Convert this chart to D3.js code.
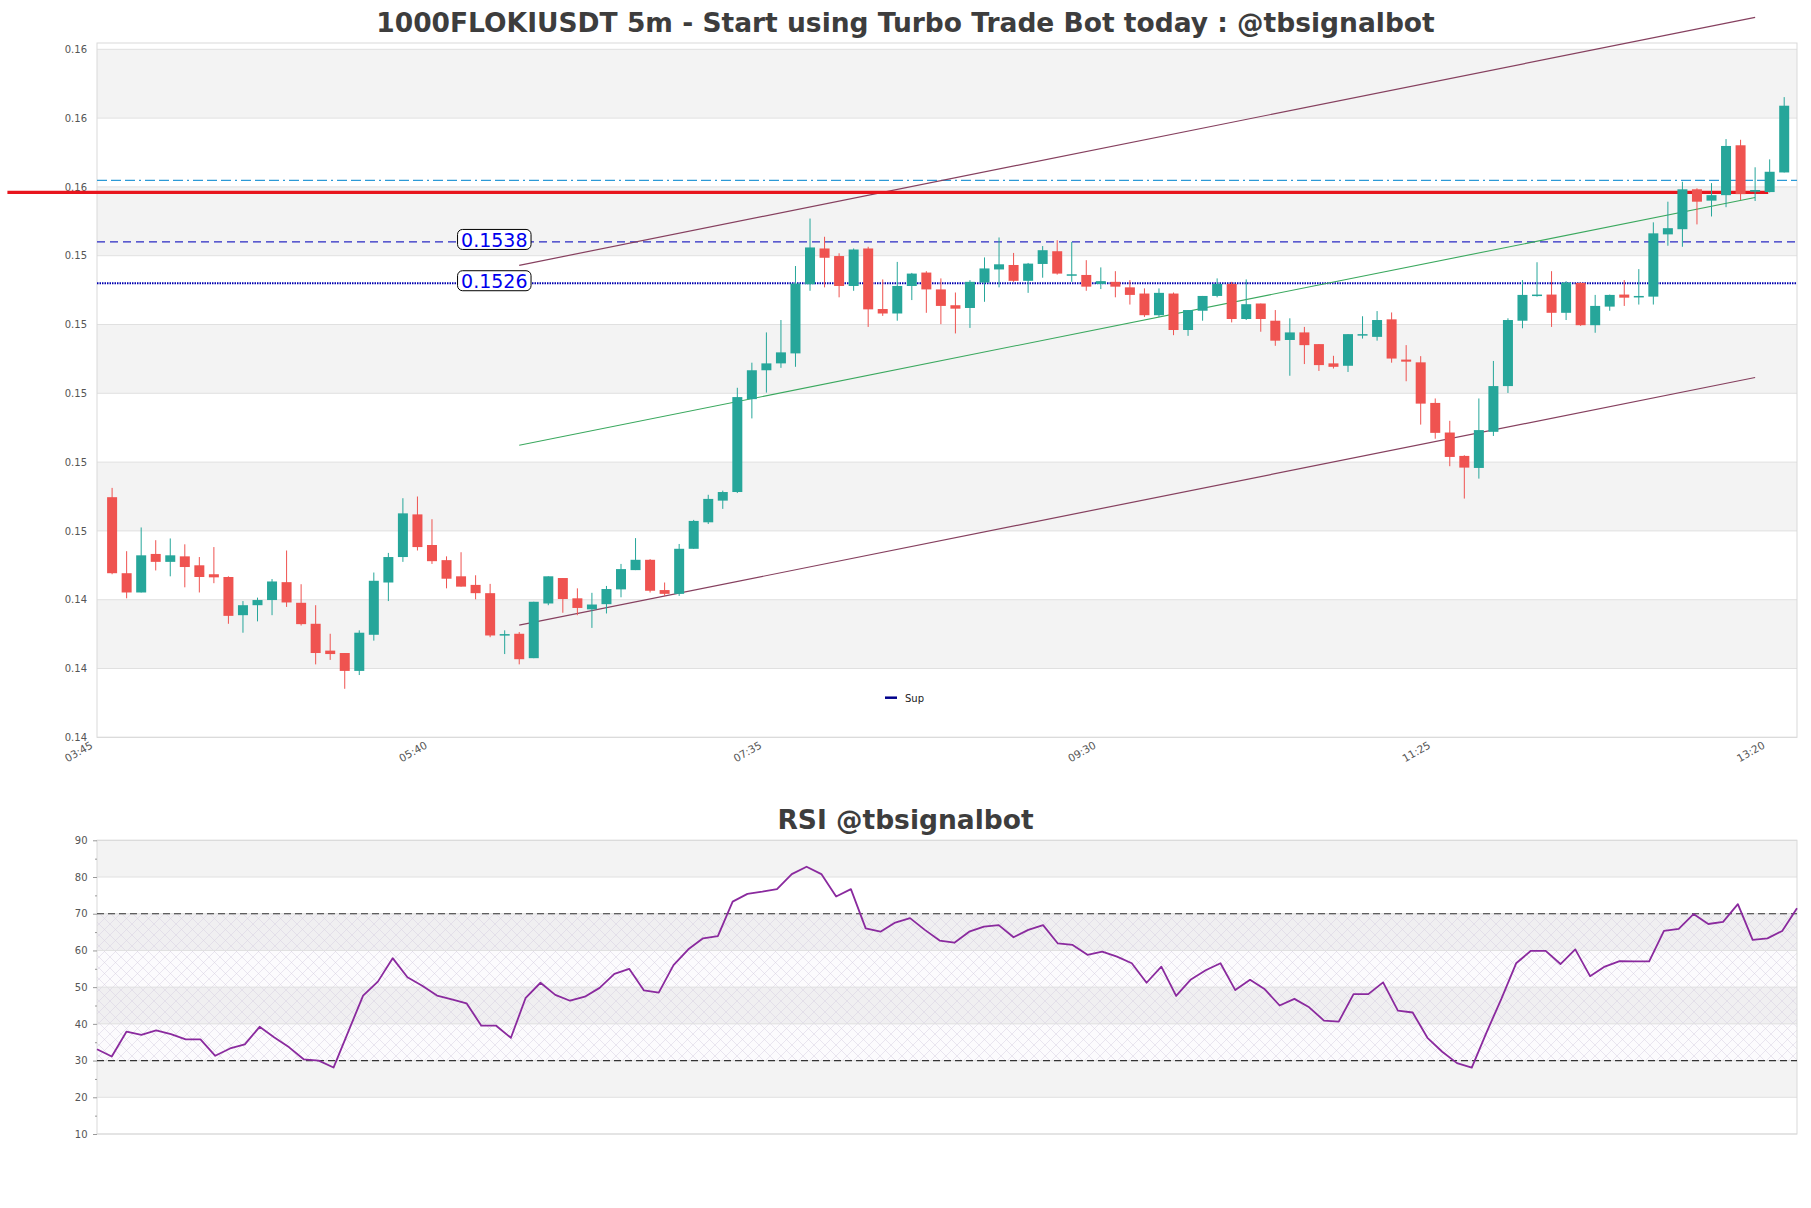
<!DOCTYPE html>
<html>
<head>
<meta charset="utf-8">
<script src="https://cdn.jsdelivr.net/npm/d3@7"></script>
<style>
    body { margin: 0; background: #fff; }
    svg { display: block; font-family: "DejaVu Sans", sans-serif; }
</style>
</head>
<body>
<div id="chart"></div>
<script>
// candles, 5m, 03:45 -> 13:20
var opens = [0.14638, 0.14417, 0.14361, 0.14473, 0.14450, 0.14466, 0.14440, 0.14414, 0.14406, 0.14295,
    0.14324, 0.14339, 0.14391, 0.14331, 0.14270, 0.14192, 0.14185, 0.14133, 0.14238, 0.14390,
    0.14464, 0.14588, 0.14499, 0.14455, 0.14408, 0.14383, 0.14359, 0.14239, 0.14241, 0.14170,
    0.14329, 0.14403, 0.14344, 0.14312, 0.14327, 0.14370, 0.14426, 0.14456, 0.14368, 0.14357,
    0.14488, 0.14565, 0.14628, 0.14653, 0.14923, 0.15007, 0.15027, 0.15056, 0.15257, 0.15361,
    0.15339, 0.15252, 0.15361, 0.15185, 0.15172, 0.15252, 0.15291, 0.15242, 0.15196, 0.15188,
    0.15262, 0.15300, 0.15313, 0.15267, 0.15316, 0.15353, 0.15285, 0.15284, 0.15258, 0.15264,
    0.15248, 0.15230, 0.15167, 0.15230, 0.15124, 0.15180, 0.15223, 0.15258, 0.15156, 0.15201,
    0.15151, 0.15095, 0.15117, 0.15083, 0.15027, 0.15020, 0.15110, 0.15104, 0.15155, 0.15038,
    0.15030, 0.14912, 0.14826, 0.14758, 0.14723, 0.14828, 0.14961, 0.15151, 0.15224, 0.15227,
    0.15174, 0.15261, 0.15138, 0.15192, 0.15227, 0.15219, 0.15221, 0.15402, 0.15417, 0.15533,
    0.15500, 0.15516, 0.15661, 0.15526, 0.15525, 0.15582];
var highs = [0.14665, 0.14481, 0.14550, 0.14513, 0.14518, 0.14501, 0.14464, 0.14493, 0.14408, 0.14336,
    0.14346, 0.14400, 0.14483, 0.14385, 0.14324, 0.14241, 0.14185, 0.14251, 0.14419, 0.14476,
    0.14635, 0.14640, 0.14574, 0.14466, 0.14478, 0.14411, 0.14386, 0.14251, 0.14246, 0.14334,
    0.14408, 0.14403, 0.14373, 0.14360, 0.14380, 0.14444, 0.14519, 0.14458, 0.14390, 0.14502,
    0.14572, 0.14645, 0.14657, 0.14956, 0.15029, 0.15117, 0.15153, 0.15310, 0.15448, 0.15395,
    0.15347, 0.15361, 0.15366, 0.15271, 0.15322, 0.15290, 0.15295, 0.15274, 0.15233, 0.15269,
    0.15335, 0.15393, 0.15348, 0.15319, 0.15368, 0.15385, 0.15380, 0.15327, 0.15306, 0.15295,
    0.15269, 0.15245, 0.15245, 0.15233, 0.15182, 0.15223, 0.15274, 0.15264, 0.15271, 0.15201,
    0.15182, 0.15158, 0.15133, 0.15083, 0.15049, 0.15112, 0.15164, 0.15179, 0.15175, 0.15080,
    0.15048, 0.14925, 0.14860, 0.14760, 0.14925, 0.15034, 0.15158, 0.15269, 0.15321, 0.15295,
    0.15266, 0.15262, 0.15226, 0.15227, 0.15269, 0.15301, 0.15437, 0.15497, 0.15555, 0.15536,
    0.15551, 0.15679, 0.15677, 0.15597, 0.15620, 0.15801];
var lows = [0.14414, 0.14344, 0.14361, 0.14425, 0.14408, 0.14376, 0.14361, 0.14388, 0.14270, 0.14244,
    0.14277, 0.14295, 0.14319, 0.14265, 0.14152, 0.14165, 0.14081, 0.14121, 0.14221, 0.14336,
    0.14450, 0.14483, 0.14444, 0.14373, 0.14378, 0.14341, 0.14231, 0.14182, 0.14152, 0.14170,
    0.14324, 0.14302, 0.14295, 0.14258, 0.14300, 0.14347, 0.14426, 0.14361, 0.14351, 0.14351,
    0.14488, 0.14560, 0.14604, 0.14650, 0.14867, 0.14942, 0.15014, 0.15017, 0.15238, 0.15248,
    0.15219, 0.15238, 0.15133, 0.15165, 0.15151, 0.15211, 0.15174, 0.15141, 0.15114, 0.15130,
    0.15206, 0.15248, 0.15264, 0.15232, 0.15276, 0.15285, 0.15264, 0.15238, 0.15243, 0.15219,
    0.15198, 0.15162, 0.15162, 0.15109, 0.15107, 0.15151, 0.15219, 0.15146, 0.15153, 0.15119,
    0.15078, 0.14991, 0.15025, 0.15005, 0.15012, 0.15002, 0.15099, 0.15093, 0.15029, 0.14975,
    0.14849, 0.14808, 0.14728, 0.14634, 0.14692, 0.14816, 0.14941, 0.15129, 0.15221, 0.15133,
    0.15153, 0.15136, 0.15116, 0.15180, 0.15194, 0.15198, 0.15198, 0.15369, 0.15366, 0.15431,
    0.15454, 0.15481, 0.15502, 0.15499, 0.15524, 0.15582];
var closes = [0.14417, 0.14361, 0.14469, 0.14450, 0.14469, 0.14435, 0.14406, 0.14405, 0.14293, 0.14324,
    0.14339, 0.14393, 0.14332, 0.14269, 0.14185, 0.14182, 0.14133, 0.14244, 0.14395, 0.14464,
    0.14591, 0.14493, 0.14452, 0.14401, 0.14378, 0.14359, 0.14236, 0.14240, 0.14167, 0.14334,
    0.14408, 0.14342, 0.14316, 0.14326, 0.14371, 0.14429, 0.14456, 0.14366, 0.14357, 0.14488,
    0.14569, 0.14633, 0.14653, 0.14929, 0.15007, 0.15027, 0.15059, 0.15259, 0.15364, 0.15334,
    0.15252, 0.15358, 0.15184, 0.15172, 0.15252, 0.15288, 0.15242, 0.15194, 0.15186, 0.15264,
    0.15303, 0.15315, 0.15267, 0.15317, 0.15356, 0.15288, 0.15286, 0.15250, 0.15266, 0.15250,
    0.15226, 0.15167, 0.15232, 0.15124, 0.15182, 0.15223, 0.15258, 0.15156, 0.15199, 0.15156,
    0.15093, 0.15117, 0.15080, 0.15022, 0.15017, 0.15112, 0.15112, 0.15153, 0.15041, 0.15032,
    0.14910, 0.14825, 0.14755, 0.14724, 0.14833, 0.14961, 0.15153, 0.15226, 0.15227, 0.15174,
    0.15262, 0.15138, 0.15194, 0.15226, 0.15218, 0.15223, 0.15405, 0.15420, 0.15533, 0.15497,
    0.15516, 0.15659, 0.15519, 0.15531, 0.15584, 0.15776];

var rsiValues = [33.1, 31.1, 37.9, 37.0, 38.2, 37.2, 35.8, 35.8, 31.3, 33.3,
    34.4, 39.2, 36.3, 33.6, 30.3, 30.0, 28.1, 37.9, 47.7, 51.5,
    57.9, 52.7, 50.4, 47.7, 46.7, 45.6, 39.5, 39.5, 36.2, 47.1,
    51.2, 47.9, 46.3, 47.4, 49.8, 53.6, 55.0, 49.1, 48.5, 56.0,
    60.3, 63.3, 63.9, 73.3, 75.4, 76.0, 76.7, 80.8, 82.8, 80.8,
    74.7, 76.7, 66.0, 65.1, 67.6, 68.8, 65.6, 62.7, 62.1, 65.1,
    66.5, 66.9, 63.6, 65.6, 66.9, 61.9, 61.5, 58.8, 59.7, 58.3,
    56.5, 51.2, 55.6, 47.6, 52.1, 54.6, 56.5, 49.2, 52.0, 49.4,
    45.0, 46.8, 44.5, 40.9, 40.6, 48.1, 48.1, 51.3, 43.6, 43.1,
    36.2, 32.4, 29.3, 28.1, 37.7, 46.8, 56.5, 59.9, 59.9, 56.3,
    60.3, 53.0, 55.6, 57.1, 57.0, 57.0, 65.3, 65.9, 69.9, 67.2,
    67.8, 72.6, 62.9, 63.3, 65.3, 71.5];

var xTickIdx = [0, 23, 46, 69, 92, 115];
var xTickLabels = ["03:45", "05:40", "07:35", "09:30", "11:25", "13:20"];
var yTicks = [0.1394, 0.1414, 0.1434, 0.1454, 0.1474, 0.1494, 0.1514, 0.1534, 0.1554, 0.1574, 0.1594];
var rsiTicks = [10, 20, 30, 40, 50, 60, 70, 80, 90];
var rsiMinorTicks = [15, 25, 35, 45, 55, 65, 75, 85];

// levels
var supLevels = [0.1538, 0.1526];
var resistLevel = 0.15559;
var redLevel = 0.15524;
var redLevelSpan = [-7.2, 113.9];

// channel (start idx, end idx) and prices
var channelIdx = [28, 113];
var upperChannel = [0.15312, 0.16033];
var midChannel = [0.14789, 0.15509];
var lowerChannel = [0.14266, 0.14986];


function CandleChart() {
    var self = this;
    self.init();
}

CandleChart.prototype.init = function () {
    var self = this;

    self.svg = d3.select("#chart").append("svg")
        .attr("width", 1811)
        .attr("height", 1208);

    var defs = self.svg.append("defs");
    var pat = defs.append("pattern")
        .attr("id", "hatch")
        .attr("width", 11).attr("height", 11)
        .attr("patternUnits", "userSpaceOnUse");
    pat.append("path")
        .attr("d", "M0,0 L11,11 M11,0 L0,11 M-1,10 L1,12 M10,-1 L12,1")
        .attr("stroke", "#d6cfe0")
        .attr("stroke-width", 0.5);

    self.drawPrice();
    self.drawRsi();
};

CandleChart.prototype.drawPrice = function () {
    var self = this;
    var left = 97, right = 1797, top = 43;

    var xScale = d3.scaleLinear().domain([0, 115]).range([112.1, 1784.2]);
    var yScale = d3.scaleLinear().domain([yTicks[0], yTicks[yTicks.length - 1]]).range([737.3, 49.3]);
    var bottom = yScale(yTicks[0]);

    var g = self.svg.append("g");

    // alternating bands
    for (var k = 0; k < yTicks.length - 1; k++) {
        g.append("rect")
            .attr("x", left).attr("width", right - left)
            .attr("y", yScale(yTicks[k + 1]))
            .attr("height", yScale(yTicks[k]) - yScale(yTicks[k + 1]))
            .attr("fill", k % 2 == 1 ? "#f3f3f3" : "#ffffff");
    }
    g.selectAll(".grid").data(yTicks).enter().append("line")
        .attr("x1", left).attr("x2", right)
        .attr("y1", function (d) { return yScale(d); })
        .attr("y2", function (d) { return yScale(d); })
        .attr("stroke", "#e0e0e0");
    g.append("rect")
        .attr("x", left).attr("y", top)
        .attr("width", right - left).attr("height", bottom - top)
        .attr("fill", "none").attr("stroke", "#d9d9d9");

    // y axis
    var yAxis = d3.axisLeft(yScale).tickValues(yTicks).tickFormat(d3.format(".2f")).tickSize(0).tickPadding(10);
    var ya = g.append("g").attr("transform", "translate(" + left + ",0)").call(yAxis);
    ya.select(".domain").remove();
    ya.selectAll("text").attr("font-size", 10).attr("fill", "#555").attr("font-family", "DejaVu Sans");

    // x axis
    var xAxis = d3.axisBottom(xScale).tickValues(xTickIdx)
        .tickFormat(function (d, i) { return xTickLabels[i]; }).tickSize(0);
    var xa = g.append("g").attr("transform", "translate(0," + bottom + ")").call(xAxis);
    xa.select(".domain").remove();
    xa.selectAll("text")
        .attr("y", 0).attr("dy", 0)
        .attr("text-anchor", "end")
        .attr("transform", "translate(-19,10) rotate(-30)")
        .attr("font-size", 10.5).attr("fill", "#555").attr("font-family", "DejaVu Sans");

    // horizontal levels
    g.append("line")
        .attr("x1", left).attr("x2", right)
        .attr("y1", yScale(resistLevel)).attr("y2", yScale(resistLevel))
        .attr("stroke", "#2c9ad6").attr("stroke-width", 1.2)
        .attr("stroke-dasharray", "10,4,10,4,10,4,2,4");
    g.append("line")
        .attr("x1", left).attr("x2", right)
        .attr("y1", yScale(supLevels[0])).attr("y2", yScale(supLevels[0]))
        .attr("stroke", "#2a2ac4").attr("stroke-width", 1.3)
        .attr("stroke-dasharray", "8,5");
    g.append("line")
        .attr("x1", left).attr("x2", right)
        .attr("y1", yScale(supLevels[1])).attr("y2", yScale(supLevels[1]))
        .attr("stroke", "#0000b0").attr("stroke-width", 2)
        .attr("stroke-dasharray", "1.5,1");

    // channel lines
    var chan = [[upperChannel, "#86405f", 1.2], [midChannel, "#3aa85e", 1.1], [lowerChannel, "#86405f", 1.2]];
    chan.forEach(function (c) {
        g.append("line")
            .attr("x1", xScale(channelIdx[0])).attr("y1", yScale(c[0][0]))
            .attr("x2", xScale(channelIdx[1])).attr("y2", yScale(c[0][1]))
            .attr("stroke", c[1]).attr("stroke-width", c[2]);
    });

    // red level
    g.append("line")
        .attr("x1", xScale(redLevelSpan[0])).attr("x2", xScale(redLevelSpan[1]))
        .attr("y1", yScale(redLevel)).attr("y2", yScale(redLevel))
        .attr("stroke", "#e8151d").attr("stroke-width", 3.2);

    // candles
    var idx = d3.range(opens.length);
    var up = "#26a69a", down = "#ef5350";
    var cg = g.append("g");
    cg.selectAll(".wick").data(idx).enter().append("line")
        .attr("x1", function (i) { return xScale(i); })
        .attr("x2", function (i) { return xScale(i); })
        .attr("y1", function (i) { return yScale(highs[i]); })
        .attr("y2", function (i) { return yScale(lows[i]); })
        .attr("stroke", function (i) { return closes[i] >= opens[i] ? up : down; })
        .attr("stroke-width", 1);
    cg.selectAll(".body").data(idx).enter().append("rect")
        .attr("x", function (i) { return xScale(i) - 5; })
        .attr("width", 10)
        .attr("y", function (i) { return yScale(Math.max(opens[i], closes[i])); })
        .attr("height", function (i) { return Math.max(1.5, Math.abs(yScale(opens[i]) - yScale(closes[i]))); })
        .attr("fill", function (i) { return closes[i] >= opens[i] ? up : down; });

    // support labels
    supLevels.forEach(function (lv) {
        var t = g.append("text")
            .attr("x", xScale(24))
            .attr("y", yScale(lv) + 4.8)
            .attr("font-size", 19)
            .attr("fill", "#0000ee")
            .text(lv.toFixed(4));
        var bb = t.node().getBBox();
        g.insert("rect", function () { return t.node(); })
            .attr("x", bb.x - 3.5).attr("y", yScale(lv) - 12.5)
            .attr("width", bb.width + 7).attr("height", 20)
            .attr("rx", 5)
            .attr("fill", "#fff").attr("stroke", "#000").attr("stroke-width", 1);
    });

    // legend
    g.append("line")
        .attr("x1", 885).attr("x2", 897).attr("y1", 697.7).attr("y2", 697.7)
        .attr("stroke", "#00008b").attr("stroke-width", 2.5);
    g.append("text").attr("x", 905).attr("y", 701.5)
        .attr("font-size", 10).attr("fill", "#222").text("Sup");

    // title
    self.svg.append("text")
        .attr("x", 905.5).attr("y", 32.3)
        .attr("text-anchor", "middle")
        .attr("font-size", 26.5).attr("font-weight", "bold").attr("fill", "#3d3d3d")
        .text("1000FLOKIUSDT 5m - Start using Turbo Trade Bot today : @tbsignalbot");
};

CandleChart.prototype.drawRsi = function () {
    var self = this;
    var left = 97, right = 1797;

    var xScale = d3.scaleLinear().domain([0, rsiValues.length - 1]).range([left, right]);
    var yScale = d3.scaleLinear().domain([10, 90]).range([1134, 840.3]);

    var g = self.svg.append("g");

    for (var k = 0; k < rsiTicks.length - 1; k++) {
        g.append("rect")
            .attr("x", left).attr("width", right - left)
            .attr("y", yScale(rsiTicks[k + 1]))
            .attr("height", yScale(rsiTicks[k]) - yScale(rsiTicks[k + 1]))
            .attr("fill", k % 2 == 1 ? "#f3f3f3" : "#ffffff");
    }
    // hatched zone 30-70
    g.append("rect")
        .attr("x", left).attr("width", right - left)
        .attr("y", yScale(70)).attr("height", yScale(30) - yScale(70))
        .attr("fill", "rgba(215,205,228,0.07)");
    g.append("rect")
        .attr("x", left).attr("width", right - left)
        .attr("y", yScale(70)).attr("height", yScale(30) - yScale(70))
        .attr("fill", "url(#hatch)");

    g.selectAll(".grid").data(rsiTicks).enter().append("line")
        .attr("x1", left).attr("x2", right)
        .attr("y1", function (d) { return yScale(d); })
        .attr("y2", function (d) { return yScale(d); })
        .attr("stroke", "#e0e0e0");
    g.append("rect")
        .attr("x", left).attr("y", yScale(90))
        .attr("width", right - left).attr("height", yScale(10) - yScale(90))
        .attr("fill", "none").attr("stroke", "#d9d9d9");

    [70, 30].forEach(function (v) {
        g.append("line")
            .attr("x1", left).attr("x2", right)
            .attr("y1", yScale(v)).attr("y2", yScale(v))
            .attr("stroke", "#333").attr("stroke-width", 1.2)
            .attr("stroke-dasharray", "7,4");
    });

    var yAxis = d3.axisLeft(yScale).tickValues(rsiTicks).tickSize(4).tickPadding(5.5);
    var ya = g.append("g").attr("transform", "translate(" + left + ",0)").call(yAxis);
    ya.select(".domain").remove();
    ya.selectAll("line").attr("stroke", "#999");
    ya.selectAll("text").attr("font-size", 10).attr("fill", "#555").attr("font-family", "DejaVu Sans");

    var minor = d3.axisLeft(yScale).tickValues(rsiMinorTicks).tickSize(2).tickFormat("");
    var ma = g.append("g").attr("transform", "translate(" + left + ",0)").call(minor);
    ma.select(".domain").remove();
    ma.selectAll("line").attr("stroke", "#999");

    var line = d3.line()
        .x(function (d, i) { return xScale(i); })
        .y(function (d) { return yScale(d); });
    g.append("path").datum(rsiValues)
        .attr("d", line)
        .attr("fill", "none")
        .attr("stroke", "#8a2a9e")
        .attr("stroke-width", 1.8)
        .attr("stroke-linejoin", "round");

    self.svg.append("text")
        .attr("x", 905.5).attr("y", 829.3)
        .attr("text-anchor", "middle")
        .attr("font-size", 26.5).attr("font-weight", "bold").attr("fill", "#3d3d3d")
        .text("RSI @tbsignalbot");
};

new CandleChart();
</script>
</body>
</html>
